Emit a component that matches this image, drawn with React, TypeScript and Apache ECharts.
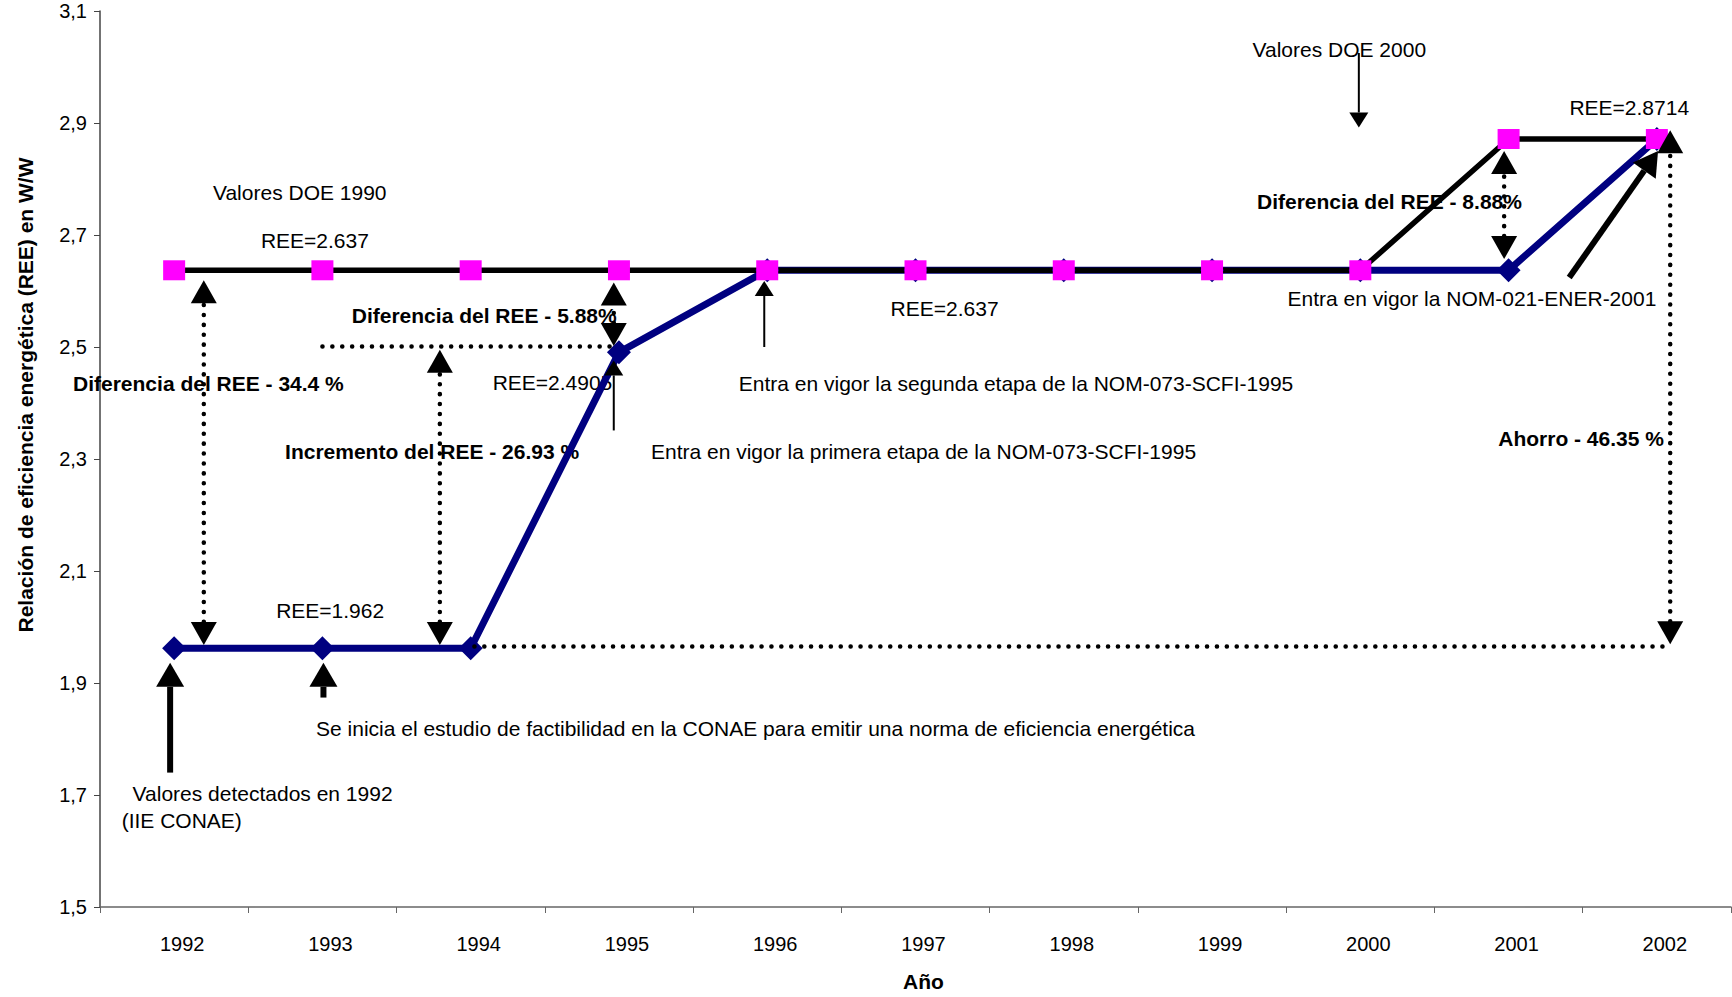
import React, { useEffect, useRef } from "react";
import * as echarts from "echarts";

// ---- data ----
const years = ["1992", "1993", "1994", "1995", "1996", "1997", "1998", "1999", "2000", "2001", "2002"];
const doeValues = [2.637, 2.637, 2.637, 2.637, 2.637, 2.637, 2.637, 2.637, 2.637, 2.8714, 2.8714];
const mexicoValues = [1.962, 1.962, 1.962, 2.4905, 2.637, 2.637, 2.637, 2.637, 2.637, 2.637, 2.8714];
const yMin = 1.5;
const yMax = 3.1;
const yStep = 0.2;

// annotation texts, positions in (category units, REE)
const noteTexts = [
  "Valores DOE 1990",
  "REE=2.637",
  "Diferencia del REE - 34.4 %",
  "REE=1.962",
  "Valores detectados en 1992",
  "(IIE CONAE)",
  "Se inicia el estudio de factibilidad en la CONAE para emitir una norma de eficiencia energética",
  "Diferencia del REE - 5.88%",
  "REE=2.4905",
  "Incremento del REE - 26.93 %",
  "Entra en vigor la primera etapa de la NOM-073-SCFI-1995",
  "Entra en vigor la segunda etapa de la NOM-073-SCFI-1995",
  "REE=2.637",
  "Valores DOE 2000",
  "REE=2.8714",
  "Diferencia del REE - 8.88%",
  "Entra en vigor la NOM-021-ENER-2001",
  "Ahorro - 46.35 %",
];
const noteX = [0.262, 0.585, -0.682, 0.688, -0.28, -0.354, 0.957, 1.198, 2.148, 0.748, 3.216, 3.808, 4.832, 7.273, 9.41, 7.303, 7.509, 8.93];
const noteY = [2.776, 2.691, 2.434, 2.03, 1.703, 1.655, 1.818, 2.556, 2.437, 2.313, 2.314, 2.434, 2.569, 3.032, 2.927, 2.759, 2.587, 2.337];
const noteBold = [false, false, true, false, false, false, false, true, false, true, false, false, false, false, false, true, false, true];

// arrows: kind, from (x1,y1) to (x2,y2)
const arrowKind = ["thick", "thick", "thick", "thin", "thin", "thin", "dotted", "dotted", "dotted", "dotted", "dotted"];
const arrowX1 = [-0.027, 1.007, 9.409, 7.99, 2.965, 3.98, 0.2, 1.792, 2.965, 8.97, 10.09];
const arrowY1 = [1.74, 1.874, 2.624, 3.025, 2.351, 2.5, 1.968, 1.968, 2.502, 2.657, 1.969];
const arrowX2 = [-0.027, 1.007, 10.008, 7.99, 2.965, 3.98, 0.2, 1.792, 2.965, 8.97, 10.09];
const arrowY2 = [1.936, 1.936, 2.85, 2.892, 2.476, 2.618, 2.619, 2.495, 2.615, 2.85, 2.887];

// dotted guide lines
const guideX1 = [1.0, 2.025];
const guideY1 = [2.501, 1.965];
const guideX2 = [2.96, 10.07];
const guideY2 = [2.501, 1.965];

const FONT = '"Liberation Sans", Arial, Helvetica, sans-serif';
const DOTS = { stroke: "#000", lineWidth: 4.5, lineDash: [0.1, 9.8], lineCap: "round" };

function head(tip: number[], from: number[], len: number, wid: number) {
  const dx = tip[0] - from[0];
  const dy = tip[1] - from[1];
  const d = Math.hypot(dx, dy) || 1;
  const ux = dx / d;
  const uy = dy / d;
  const nx = -uy;
  const ny = ux;
  const bx = tip[0] - ux * len;
  const by = tip[1] - uy * len;
  return {
    base: [bx, by],
    poly: {
      type: "polygon",
      shape: {
        points: [
          [tip[0], tip[1]],
          [bx + (nx * wid) / 2, by + (ny * wid) / 2],
          [bx - (nx * wid) / 2, by - (ny * wid) / 2],
        ],
      },
      style: { fill: "#000", stroke: "none" },
    },
  };
}

function renderArrow(params: any, api: any) {
  const kind = arrowKind[params.dataIndex];
  const p1 = api.coord([api.value(0), api.value(1)]);
  const p2 = api.coord([api.value(2), api.value(3)]);
  const children: any[] = [];
  if (kind === "dotted") {
    const h1 = head(p1, p2, 23, 26);
    const h2 = head(p2, p1, 23, 26);
    children.push({
      type: "line",
      shape: { x1: h1.base[0], y1: h1.base[1], x2: h2.base[0], y2: h2.base[1] },
      style: DOTS,
    });
    children.push(h1.poly, h2.poly);
  } else {
    const thick = kind === "thick";
    const h = thick ? head(p2, p1, 24, 28) : head(p2, p1, 15, 19);
    children.push({
      type: "line",
      shape: { x1: p1[0], y1: p1[1], x2: h.base[0], y2: h.base[1] },
      style: { stroke: "#000", lineWidth: thick ? 6 : 2 },
    });
    children.push(h.poly);
  }
  return { type: "group", children };
}

function renderGuide(params: any, api: any) {
  const p1 = api.coord([api.value(0), api.value(1)]);
  const p2 = api.coord([api.value(2), api.value(3)]);
  return {
    type: "line",
    shape: { x1: p1[0], y1: p1[1], x2: p2[0], y2: p2[1] },
    style: DOTS,
  };
}

function renderNote(params: any, api: any) {
  const i = params.dataIndex;
  const p = api.coord([api.value(0), api.value(1)]);
  return {
    type: "text",
    x: p[0],
    y: p[1],
    style: {
      text: noteTexts[i],
      fill: "#000",
      fontSize: 21,
      fontFamily: FONT,
      fontWeight: noteBold[i] ? "bold" : "normal",
      align: "left",
      verticalAlign: "middle",
    },
  };
}

export default function App() {
  const ref = useRef<HTMLDivElement>(null);
  useEffect(() => {
    if (!ref.current) return;
    const chart = echarts.init(ref.current, null, { renderer: "svg" });
    chart.setOption({
      animation: false,
      backgroundColor: "#fff",
      textStyle: { fontFamily: FONT },
      grid: { left: 100, top: 11, width: 1631, height: 899, containLabel: false },
      xAxis: [
        {
          type: "category",
          data: years,
          boundaryGap: true,
          name: "Año",
          nameLocation: "middle",
          nameGap: 64,
          nameTextStyle: { fontSize: 21, fontWeight: "bold", color: "#000", fontFamily: FONT, padding: [0, 0, 0, 16] },
          axisLine: { show: true, onZero: false, lineStyle: { color: "#666", width: 1.5 } },
          axisTick: { show: true, alignWithLabel: false, interval: 0, length: 6, lineStyle: { color: "#666" } },
          axisLabel: { interval: 0, margin: 27, fontSize: 20, color: "#000", fontFamily: FONT, padding: [0, 0, 0, 16] },
          splitLine: { show: false },
        },
        { type: "value", min: -0.5, max: 10.5, show: false },
      ],
      yAxis: {
        type: "value",
        min: yMin,
        max: yMax,
        interval: yStep,
        name: "Relación de eficiencia energética (REE) en W/W",
        nameLocation: "middle",
        nameGap: 64,
        nameTextStyle: { fontSize: 21, fontWeight: "bold", color: "#000", fontFamily: FONT, padding: [0, 0, 0, 128] },
        axisLine: { show: true, onZero: false, lineStyle: { color: "#444", width: 1.5 } },
        axisTick: { show: true, length: 6, lineStyle: { color: "#444" } },
        axisLabel: {
          margin: 13,
          fontSize: 20,
          color: "#000",
          fontFamily: FONT,
          formatter: (v: number) => v.toFixed(1).replace(".", ","),
        },
        splitLine: { show: false },
      },
      series: [
        {
          type: "custom",
          name: "notas",
          xAxisIndex: 1,
          yAxisIndex: 0,
          z: 1,
          silent: true,
          clip: false,
          renderItem: renderNote,
          data: noteX.map((x, i) => [x, noteY[i]]),
        },
        {
          type: "line",
          name: "México",
          data: mexicoValues,
          z: 2,
          symbol: "diamond",
          symbolSize: [24, 24],
          showAllSymbol: true,
          lineStyle: { color: "#000080", width: 7 },
          itemStyle: { color: "#000080" },
          silent: true,
        },
        {
          type: "line",
          name: "DOE",
          data: doeValues,
          z: 2,
          symbol: "rect",
          symbolSize: [22, 20],
          showAllSymbol: true,
          lineStyle: { color: "#000", width: 5.5 },
          itemStyle: { color: "#FF00FF" },
          silent: true,
        },
        {
          type: "custom",
          name: "guias",
          xAxisIndex: 1,
          yAxisIndex: 0,
          z: 3,
          silent: true,
          clip: false,
          renderItem: renderGuide,
          data: guideX1.map((x, i) => [x, guideY1[i], guideX2[i], guideY2[i]]),
        },
        {
          type: "custom",
          name: "flechas",
          xAxisIndex: 1,
          yAxisIndex: 0,
          z: 4,
          silent: true,
          clip: false,
          renderItem: renderArrow,
          data: arrowX1.map((x, i) => [x, arrowY1[i], arrowX2[i], arrowY2[i]]),
        },
      ],
    });
    return () => chart.dispose();
  }, []);
  return (
    <div
      ref={ref}
      style={{ position: "fixed", left: 0, top: 0, width: 1732, height: 997, background: "#fff" }}
    />
  );
}
